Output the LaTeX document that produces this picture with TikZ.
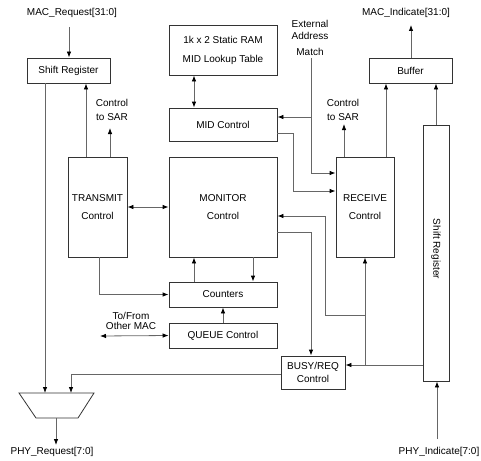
\documentclass[tikz,border=0pt]{standalone}
\usepackage{fontspec}
\setmainfont{Liberation Sans}
\usetikzlibrary{arrows.meta,shapes,positioning}

\definecolor{wirecol}{gray}{0.4}
\definecolor{edgecol}{gray}{0.2}

\tikzset{
  blk/.style={draw=edgecol, line width=0.8pt, fill=white, inner sep=0pt, align=center},
  lbl/.style={inner sep=1pt, align=center},
  wire/.style={draw=wirecol, line width=0.8pt},
  >={Latex[length=6pt,width=4.5pt,color=black]}
}

\begin{document}
\begin{tikzpicture}[x=1pt, y=-1pt, font=\fontsize{10}{12}\selectfont]
  \useasboundingbox (0,0) rectangle (481,460);

  % blocks
  \node[blk, minimum width=83, minimum height=25] (shiftin) at (68.5,70.5) {Shift Register};
  \node[blk, minimum width=108, minimum height=50] (ram) at (223,50) {1k x 2 Static RAM\\[7pt]MID Lookup Table};
  \node[blk, minimum width=108, minimum height=33] (midctl) at (223,124.5) {MID Control};
  \node[blk, minimum width=59, minimum height=100] (transmit) at (97.5,207) {TRANSMIT\\[6pt]Control};
  \node[blk, minimum width=108, minimum height=100] (monitor) at (223,207) {MONITOR\\[6pt]Control};
  \node[blk, minimum width=58, minimum height=100] (receive) at (365,207) {RECEIVE\\[6pt]Control};
  \node[blk, minimum width=83, minimum height=25] (buffer) at (410.5,70.5) {Buffer};
  \node[blk, minimum width=26, minimum height=256] (shiftout) at (436,253) {};
  \node[rotate=-90] (shiftlbl) at (436,249) {Shift Register};
  \node[blk, minimum width=108, minimum height=25] (counters) at (223,294.5) {Counters};
  \node[blk, minimum width=108, minimum height=25] (queue) at (223,335.5) {QUEUE Control};
  \node[blk, minimum width=64, minimum height=33] (busy) at (313,372.5) {BUSY/REQ\\[1pt]Control};

  % mux
  \coordinate (muxtl) at (19,393);
  \coordinate (muxtr) at (94,393);
  \coordinate (muxbr) at (78,418);
  \coordinate (muxbl) at (36,418);
  \draw[draw=edgecol, line width=0.8pt] (muxtl) -- (muxtr) -- (muxbr) -- (muxbl) -- cycle;

  % labels
  \node[lbl] (macreq) at (72,13) {MAC\_Request[31:0]};
  \node[lbl] (macind) at (406,13) {MAC\_Indicate[31:0]};
  \node[lbl] (phyreq) at (52,452) {PHY\_Request[7:0]};
  \node[lbl] (phyind) at (439,452) {PHY\_Indicate[7:0]};
  \node[lbl] (sarleft) at (112,110) {Control\\[2pt]to SAR};
  \node[lbl] (sarright) at (343,110) {Control\\[2pt]to SAR};
  \node[lbl] (extmatch) at (310,38) {External\\Address\\[4pt]Match};
  \node[lbl] (othermac) at (131,321) {To/From\\[-2pt]Other MAC};

  % free ends
  \coordinate (reqin) at (69,27);
  \coordinate (indout) at (411,25);
  \coordinate (sarl) at (110,128);
  \coordinate (sarr) at (344,124);
  \coordinate (phyout) at (56,445);
  \coordinate (phyin) at (437,439);
  \coordinate (extin) at (311,58);
  \coordinate (otherin) at (100,336);
  \coordinate (tapb) at (365,365);

  % transmit side
  \draw[wire,->] (reqin) -- (shiftin.north -| reqin);
  \draw[wire,->] (shiftin.south -| 45,0) -- (muxtl -| 45,0);
  \draw[wire,->] (transmit.north -| 86,0) -- (shiftin.south -| 86,0);
  \draw[wire,->] (transmit.north -| sarl) -- (sarl);
  \draw[wire,<->] (transmit.east) -- (monitor.west);
  \draw[wire,->] (transmit.south -| 99,0) |- (counters.west);
  \draw[wire,->] (muxbl -| phyout) -- (phyout);

  % monitor, counters, queue
  \draw[wire,<->] (ram.south -| 194,0) -- (midctl.north -| 194,0);
  \draw[wire,->] (counters.north -| 194,0) -- (monitor.south -| 194,0);
  \draw[wire,->] (monitor.south -| 253,0) -- (counters.north -| 253,0);
  \draw[wire,->] (queue.north) -- (counters.south);
  \draw[wire,<->] (otherin) -- (queue.west);
  \draw[wire,->] (monitor.east |- 0,232) -| (busy.north -| 311,0);
  \draw[wire,->] (busy.west |- 0,374) -| (muxtl -| 71,0);

  % receive side
  \draw[wire,->] (extin) |- (receive.west |- 0,173);
  \draw[wire,->] (extin |- 0,117) -- (midctl.east |- 0,117);
  \draw[wire,->] (midctl.east |- 0,133) -| (293,191) -- (receive.west |- 0,191);
  \draw[wire,->] (shiftout.west |- tapb) -- (busy.east |- tapb);
  \draw[wire,->] (tapb) -- (receive.south -| tapb);
  \draw[wire,->] (tapb |- 0,315) -| (325,216) -- (monitor.east |- 0,216);
  \draw[wire,->] (receive.north -| sarr) -- (sarr);
  \draw[wire,->] (receive.north -| 386,0) -- (buffer.south -| 386,0);
  \draw[wire,->] (shiftout.north) -- (buffer.south -| shiftout.north);
  \draw[wire,->] (buffer.north -| indout) -- (indout);
  \draw[wire,->] (phyin) -- (shiftout.south -| phyin);
\end{tikzpicture}
\end{document}
